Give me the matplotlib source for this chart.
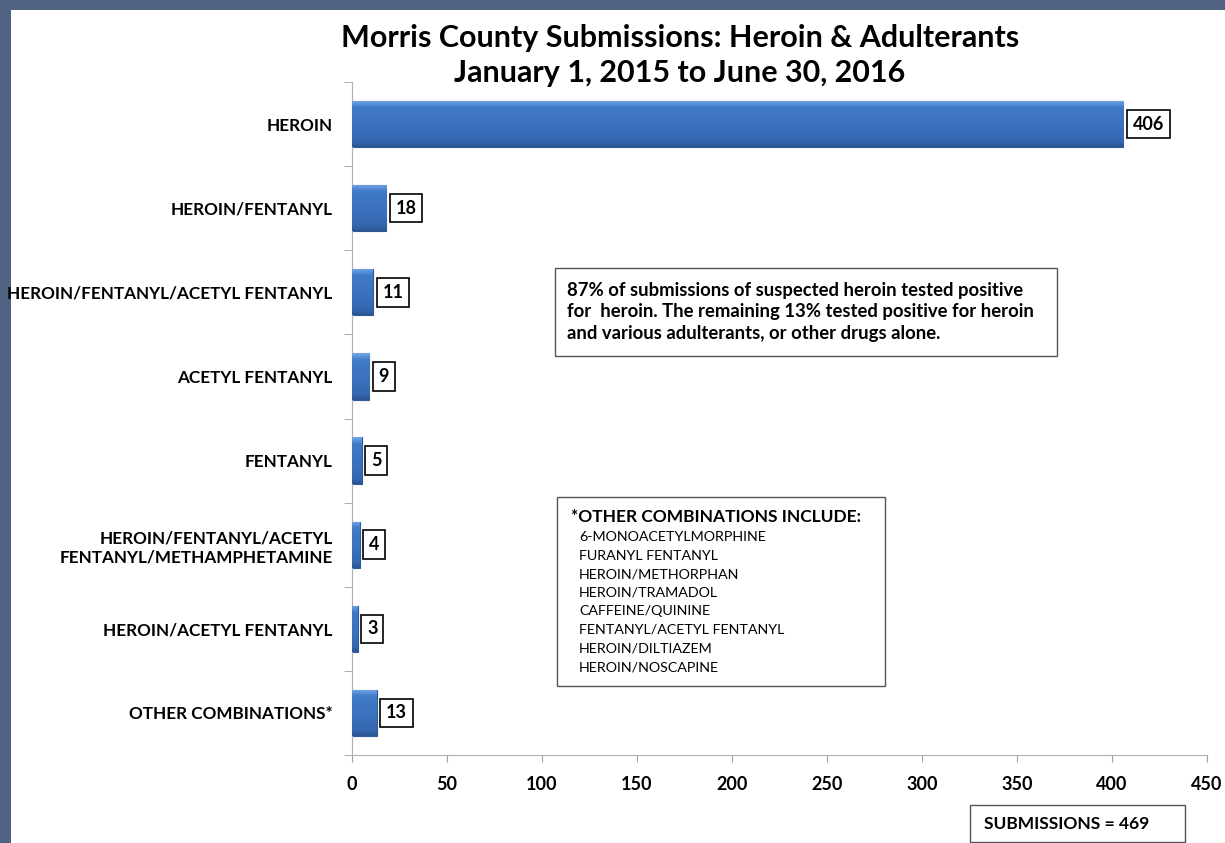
import numpy as np
import matplotlib
matplotlib.use('Agg')
import matplotlib.pyplot as plt
from matplotlib.patches import Rectangle

plt.rcParams['font.family'] = ['Lato', 'DejaVu Sans']

# data
categories = ['HEROIN', 'HEROIN/FENTANYL', 'HEROIN/FENTANYL/ACETYL FENTANYL',
              'ACETYL FENTANYL', 'FENTANYL',
              'HEROIN/FENTANYL/ACETYL\nFENTANYL/METHAMPHETAMINE',
              'HEROIN/ACETYL FENTANYL', 'OTHER COMBINATIONS*']
counts = [406, 18, 11, 9, 5, 4, 3, 13]
xticks = [0, 50, 100, 150, 200, 250, 300, 350, 400, 450]
other_combos = ['6-MONOACETYLMORPHINE', 'FURANYL FENTANYL', 'HEROIN/METHORPHAN',
                'HEROIN/TRAMADOL', 'CAFFEINE/QUININE', 'FENTANYL/ACETYL FENTANYL',
                'HEROIN/DILTIAZEM', 'HEROIN/NOSCAPINE']

W, H = 1225, 843
fig = plt.figure(figsize=(W / 100, H / 100), dpi=100)
fig.patch.set_facecolor('#506382')
fig.add_artist(Rectangle((11 / W, 0), 1, 1 - 10 / H, transform=fig.transFigure,
                         facecolor='white', edgecolor='none', zorder=0))

ax = fig.add_axes([352 / W, 1 - 755 / H, 855 / W, 673 / H])
ax.set_facecolor('none')

y = np.arange(len(categories))
bars = ax.barh(y, counts, height=0.55, color='#3b72bf', edgecolor='#2d5b9a',
               linewidth=0.8, zorder=2)

# bevel-like shading on bars (dark bottom, light top rim)
grad = np.linspace(0, 1, 100).reshape(-1, 1)
cmap = matplotlib.colors.LinearSegmentedColormap.from_list(
    'bev', [(0, '#2a5592'), (0.12, '#3567b0'), (0.5, '#3c73c0'),
            (0.85, '#4079c6'), (1, '#72a6e6')])
for b in bars:
    x0, y0 = b.get_x(), b.get_y()
    im = ax.imshow(grad, cmap=cmap, aspect='auto', zorder=3, origin='lower',
                   extent=[x0, x0 + b.get_width(), y0 + b.get_height(), y0])
    im.set_clip_path(b)

for i, v in enumerate(counts):
    ax.text(v + 5, i, str(v), ha='left', va='center', fontsize=13,
            fontweight='bold', zorder=4,
            bbox=dict(boxstyle='square,pad=0.32', fc='white', ec='black', lw=1.2))

ax.set_xlim(0, 450)
ax.set_ylim(len(categories) - 0.5, -0.5)
ax.set_xticks(xticks)
ax.set_xticklabels([str(t) for t in xticks], fontsize=13, fontweight='bold')
ax.set_yticks(y)
ax.set_yticklabels(categories, fontsize=12.3, fontweight='bold', linespacing=1.25)
ax.set_yticks(np.arange(-0.5, len(categories), 1), minor=True)
ax.tick_params(axis='y', which='major', length=0, pad=14)
ax.tick_params(axis='y', which='minor', length=6, color='#a0a0a0')
ax.tick_params(axis='x', length=5, color='#a0a0a0', pad=10)
for s in ['top', 'right']:
    ax.spines[s].set_visible(False)
for s in ['left', 'bottom']:
    ax.spines[s].set_color('#b0b0b0')

fig.text(680 / W, 1 - 38 / H, 'Morris County Submissions: Heroin & Adulterants',
         ha='center', va='center', fontsize=22, fontweight='bold')
fig.text(680 / W, 1 - 73 / H, 'January 1, 2015 to June 30, 2016',
         ha='center', va='center', fontsize=22, fontweight='bold')

# note box
fig.add_artist(Rectangle((555 / W, 1 - 356 / H), 502 / W, 88 / H,
                         transform=fig.transFigure, fc='white', ec='#555555', lw=1))
fig.text(567 / W, 1 - 312 / H,
         '87% of submissions of suspected heroin tested positive\n'
         'for  heroin. The remaining 13% tested positive for heroin\n'
         'and various adulterants, or other drugs alone.',
         ha='left', va='center', fontsize=13.3, fontweight='bold', linespacing=1.33)

# other combinations box
fig.add_artist(Rectangle((557 / W, 1 - 686 / H), 328 / W, 189 / H,
                         transform=fig.transFigure, fc='white', ec='#555555', lw=1))
fig.text(571 / W, 1 - 517 / H, '*OTHER COMBINATIONS INCLUDE:', ha='left',
         va='center', fontsize=12.5, fontweight='bold')
for k, name in enumerate(other_combos):
    fig.text(579 / W, 1 - (537 + k * 18.6) / H, name, ha='left', va='center',
             fontsize=10.3)

# submissions box
fig.add_artist(Rectangle((970 / W, 1 - 842 / H), 215 / W, 37 / H,
                         transform=fig.transFigure, fc='white', ec='#555555', lw=1))
fig.text(1067 / W, 1 - 824 / H, 'SUBMISSIONS = 469', ha='center', va='center',
         fontsize=12.5, fontweight='bold')

fig.savefig('out.png', dpi=100, facecolor=fig.get_facecolor())
